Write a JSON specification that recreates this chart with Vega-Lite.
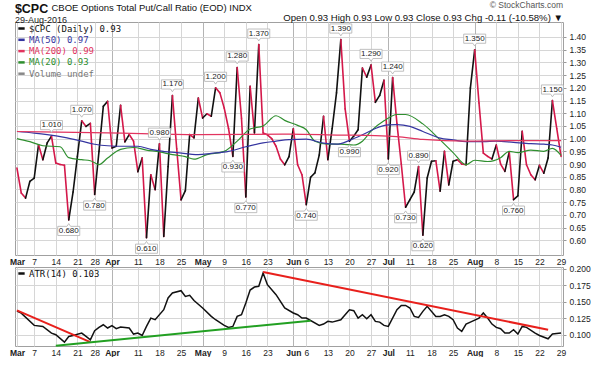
{
"$schema": "https://vega.github.io/schema/vega-lite/v6.json",
"background": "white",
"padding": {"left": 8, "top": 0, "right": 0, "bottom": 0},
"autosize": {"type": "pad"},
"bounds": "flush",
"spacing": 12,
"title": {"text": "$CPC", "subtitle": "29-Aug-2016", "anchor": "start", "font": "Liberation Sans", "fontSize": 12.5, "fontWeight": "bold", "color": "#111", "subtitleFont": "Liberation Sans", "subtitleFontSize": 9, "subtitleColor": "#222", "subtitlePadding": 0, "offset": -24, "dx": 6},
"resolve": {"scale": {"color": "independent"}, "legend": {"color": "independent"}},
"config": {
  "view": {"stroke": "#a0a0a0", "strokeWidth": 1},
  "axis": {"labelFont": "Liberation Sans", "labelFontSize": 8.5, "labelColor": "#222", "gridColor": "#d6d6d6", "gridWidth": 1, "domain": false, "titleFont": "Liberation Sans"}
},
"datasets": {
  "cpc": [
    {"d":"03-01","v":0.884},{"d":"03-02","v":0.786},{"d":"03-03","v":0.766},{"d":"03-04","v":0.832},
    {"d":"03-07","v":0.845},{"d":"03-08","v":0.976},{"d":"03-09","v":0.917},{"d":"03-10","v":0.983},{"d":"03-11","v":1.010},
    {"d":"03-14","v":0.904},{"d":"03-15","v":0.898},{"d":"03-16","v":0.895},{"d":"03-17","v":0.680},{"d":"03-18","v":0.790},
    {"d":"03-21","v":0.930},{"d":"03-22","v":1.070},{"d":"03-23","v":1.048},{"d":"03-24","v":1.060},
    {"d":"03-28","v":0.780},{"d":"03-29","v":0.950},{"d":"03-30","v":1.127},{"d":"03-31","v":1.147},{"d":"04-01","v":0.963},
    {"d":"04-04","v":0.970},{"d":"04-05","v":1.131},{"d":"04-06","v":0.987},{"d":"04-07","v":1.016},{"d":"04-08","v":0.990},
    {"d":"04-11","v":0.870},{"d":"04-12","v":0.924},{"d":"04-13","v":0.610},{"d":"04-14","v":0.858},{"d":"04-15","v":0.799},
    {"d":"04-18","v":0.980},{"d":"04-19","v":0.615},{"d":"04-20","v":0.890},{"d":"04-21","v":1.170},{"d":"04-22","v":0.960},
    {"d":"04-25","v":0.759},{"d":"04-26","v":0.795},{"d":"04-27","v":1.016},{"d":"04-28","v":1.003},{"d":"04-29","v":1.160},
    {"d":"05-02","v":1.081},{"d":"05-03","v":1.098},{"d":"05-04","v":1.088},{"d":"05-05","v":1.200},{"d":"05-06","v":1.180},
    {"d":"05-09","v":1.120},{"d":"05-10","v":1.040},{"d":"05-11","v":0.930},{"d":"05-12","v":1.280},{"d":"05-13","v":1.080},
    {"d":"05-16","v":0.770},{"d":"05-17","v":1.206},{"d":"05-18","v":1.022},{"d":"05-19","v":1.370},{"d":"05-20","v":1.022},
    {"d":"05-23","v":1.015},{"d":"05-24","v":1.000},{"d":"05-25","v":0.970},{"d":"05-26","v":0.920},{"d":"05-27","v":0.897},
    {"d":"05-31","v":0.929},{"d":"06-01","v":1.039},{"d":"06-02","v":0.897},{"d":"06-03","v":0.858},
    {"d":"06-06","v":0.740},{"d":"06-07","v":0.848},{"d":"06-08","v":0.865},{"d":"06-09","v":0.935},{"d":"06-10","v":1.088},
    {"d":"06-13","v":0.917},{"d":"06-14","v":1.040},{"d":"06-15","v":1.180},{"d":"06-16","v":1.390},{"d":"06-17","v":1.117},
    {"d":"06-20","v":0.990},{"d":"06-21","v":1.010},{"d":"06-22","v":1.035},{"d":"06-23","v":1.278},{"d":"06-24","v":1.242},
    {"d":"06-27","v":1.290},{"d":"06-28","v":1.143},{"d":"06-29","v":1.170},{"d":"06-30","v":1.230},{"d":"07-01","v":0.920},
    {"d":"07-05","v":1.240},{"d":"07-06","v":1.059},{"d":"07-07","v":0.900},{"d":"07-08","v":0.730},
    {"d":"07-11","v":0.760},{"d":"07-12","v":0.790},{"d":"07-13","v":0.890},{"d":"07-14","v":0.620},{"d":"07-15","v":0.845},
    {"d":"07-18","v":0.911},{"d":"07-19","v":0.913},{"d":"07-20","v":0.793},{"d":"07-21","v":0.950},{"d":"07-22","v":0.818},
    {"d":"07-25","v":0.911},{"d":"07-26","v":0.917},{"d":"07-27","v":0.900},{"d":"07-28","v":0.897},{"d":"07-29","v":1.199},
    {"d":"08-01","v":1.350},{"d":"08-02","v":1.140},{"d":"08-03","v":0.943},{"d":"08-04","v":0.930},{"d":"08-05","v":0.920},
    {"d":"08-08","v":0.975},{"d":"08-09","v":0.900},{"d":"08-10","v":0.871},{"d":"08-11","v":0.948},{"d":"08-12","v":0.760},
    {"d":"08-15","v":0.775},{"d":"08-16","v":1.029},{"d":"08-17","v":0.897},{"d":"08-18","v":0.858},{"d":"08-19","v":0.838},
    {"d":"08-22","v":0.895},{"d":"08-23","v":0.864},{"d":"08-24","v":0.924},{"d":"08-25","v":1.150},{"d":"08-26","v":1.040},
    {"d":"08-29","v":0.930}
  ],
  "ma": [
    {"s":"MA(20) 0.93","d":"03-01","v":1.000},{"s":"MA(20) 0.93","d":"03-04","v":0.988},{"s":"MA(20) 0.93","d":"03-09","v":0.972},
    {"s":"MA(20) 0.93","d":"03-15","v":0.968},{"s":"MA(20) 0.93","d":"03-17","v":0.925},{"s":"MA(20) 0.93","d":"03-22","v":0.917},
    {"s":"MA(20) 0.93","d":"03-24","v":0.913},{"s":"MA(20) 0.93","d":"03-29","v":0.898},{"s":"MA(20) 0.93","d":"03-31","v":0.924},
    {"s":"MA(20) 0.93","d":"04-05","v":0.958},{"s":"MA(20) 0.93","d":"04-08","v":0.965},{"s":"MA(20) 0.93","d":"04-13","v":0.955},
    {"s":"MA(20) 0.93","d":"04-18","v":0.948},{"s":"MA(20) 0.93","d":"04-21","v":0.937},{"s":"MA(20) 0.93","d":"04-26","v":0.929},
    {"s":"MA(20) 0.93","d":"04-28","v":0.919},{"s":"MA(20) 0.93","d":"05-03","v":0.937},{"s":"MA(20) 0.93","d":"05-09","v":0.950},
    {"s":"MA(20) 0.93","d":"05-12","v":0.990},{"s":"MA(20) 0.93","d":"05-17","v":1.038},{"s":"MA(20) 0.93","d":"05-20","v":1.050},
    {"s":"MA(20) 0.93","d":"05-25","v":1.090},{"s":"MA(20) 0.93","d":"05-27","v":1.072},{"s":"MA(20) 0.93","d":"06-02","v":1.052},
    {"s":"MA(20) 0.93","d":"06-06","v":1.035},{"s":"MA(20) 0.93","d":"06-08","v":0.990},{"s":"MA(20) 0.93","d":"06-13","v":0.978},
    {"s":"MA(20) 0.93","d":"06-16","v":0.978},{"s":"MA(20) 0.93","d":"06-21","v":0.975},{"s":"MA(20) 0.93","d":"06-23","v":0.990},
    {"s":"MA(20) 0.93","d":"06-27","v":1.030},{"s":"MA(20) 0.93","d":"06-30","v":1.070},{"s":"MA(20) 0.93","d":"07-06","v":1.095},
    {"s":"MA(20) 0.93","d":"07-08","v":1.095},{"s":"MA(20) 0.93","d":"07-14","v":1.058},{"s":"MA(20) 0.93","d":"07-20","v":0.995},
    {"s":"MA(20) 0.93","d":"07-25","v":0.945},{"s":"MA(20) 0.93","d":"07-28","v":0.897},{"s":"MA(20) 0.93","d":"08-01","v":0.915},
    {"s":"MA(20) 0.93","d":"08-04","v":0.910},{"s":"MA(20) 0.93","d":"08-09","v":0.925},{"s":"MA(20) 0.93","d":"08-11","v":0.950},
    {"s":"MA(20) 0.93","d":"08-15","v":0.945},{"s":"MA(20) 0.93","d":"08-18","v":0.955},{"s":"MA(20) 0.93","d":"08-23","v":0.950},
    {"s":"MA(20) 0.93","d":"08-25","v":0.962},{"s":"MA(20) 0.93","d":"08-29","v":0.934},
    {"s":"MA(50) 0.97","d":"03-01","v":1.028},{"s":"MA(50) 0.97","d":"03-07","v":1.022},{"s":"MA(50) 0.97","d":"03-10","v":1.016},
    {"s":"MA(50) 0.97","d":"03-16","v":1.005},{"s":"MA(50) 0.97","d":"03-22","v":0.990},{"s":"MA(50) 0.97","d":"03-28","v":0.978},
    {"s":"MA(50) 0.97","d":"03-31","v":0.972},{"s":"MA(50) 0.97","d":"04-06","v":0.970},{"s":"MA(50) 0.97","d":"04-11","v":0.970},
    {"s":"MA(50) 0.97","d":"04-14","v":0.958},{"s":"MA(50) 0.97","d":"04-18","v":0.952},{"s":"MA(50) 0.97","d":"04-22","v":0.945},
    {"s":"MA(50) 0.97","d":"04-29","v":0.937},{"s":"MA(50) 0.97","d":"05-04","v":0.942},{"s":"MA(50) 0.97","d":"05-10","v":0.950},
    {"s":"MA(50) 0.97","d":"05-16","v":0.968},{"s":"MA(50) 0.97","d":"05-20","v":0.983},{"s":"MA(50) 0.97","d":"05-25","v":0.990},
    {"s":"MA(50) 0.97","d":"05-31","v":0.996},{"s":"MA(50) 0.97","d":"06-06","v":0.998},{"s":"MA(50) 0.97","d":"06-10","v":0.982},
    {"s":"MA(50) 0.97","d":"06-15","v":0.978},{"s":"MA(50) 0.97","d":"06-20","v":0.993},{"s":"MA(50) 0.97","d":"06-23","v":1.015},
    {"s":"MA(50) 0.97","d":"06-28","v":1.040},{"s":"MA(50) 0.97","d":"07-01","v":1.054},{"s":"MA(50) 0.97","d":"07-06","v":1.055},
    {"s":"MA(50) 0.97","d":"07-11","v":1.048},{"s":"MA(50) 0.97","d":"07-14","v":1.028},{"s":"MA(50) 0.97","d":"07-20","v":1.002},
    {"s":"MA(50) 0.97","d":"07-25","v":0.995},{"s":"MA(50) 0.97","d":"07-28","v":0.988},{"s":"MA(50) 0.97","d":"08-03","v":0.988},
    {"s":"MA(50) 0.97","d":"08-08","v":0.990},{"s":"MA(50) 0.97","d":"08-12","v":0.985},{"s":"MA(50) 0.97","d":"08-18","v":0.980},
    {"s":"MA(50) 0.97","d":"08-23","v":0.978},{"s":"MA(50) 0.97","d":"08-25","v":0.975},{"s":"MA(50) 0.97","d":"08-29","v":0.966},
    {"s":"MA(200) 0.99","d":"03-01","v":1.028},{"s":"MA(200) 0.99","d":"03-31","v":1.023},{"s":"MA(200) 0.99","d":"04-29","v":1.016},
    {"s":"MA(200) 0.99","d":"05-18","v":1.017},{"s":"MA(200) 0.99","d":"05-31","v":1.018},{"s":"MA(200) 0.99","d":"06-16","v":1.014},
    {"s":"MA(200) 0.99","d":"06-28","v":1.012},{"s":"MA(200) 0.99","d":"07-06","v":1.008},{"s":"MA(200) 0.99","d":"07-14","v":0.997},
    {"s":"MA(200) 0.99","d":"07-28","v":0.990},{"s":"MA(200) 0.99","d":"08-12","v":0.992},{"s":"MA(200) 0.99","d":"08-29","v":0.992}
  ],
  "ann": [
    {"d":"03-11","v":1.010,"p":"a"},{"d":"03-17","v":0.680,"p":"b"},{"d":"03-22","v":1.070,"p":"a"},{"d":"03-28","v":0.780,"p":"b"},
    {"d":"04-13","v":0.610,"p":"b"},{"d":"04-18","v":0.980,"p":"a"},{"d":"04-21","v":1.170,"p":"a"},{"d":"05-05","v":1.200,"p":"a"},
    {"d":"05-11","v":0.930,"p":"b"},{"d":"05-12","v":1.280,"p":"a"},{"d":"05-16","v":0.770,"p":"b"},{"d":"05-19","v":1.370,"p":"a"},
    {"d":"06-06","v":0.740,"p":"b"},{"d":"06-16","v":1.390,"p":"a"},{"d":"06-20","v":0.990,"p":"b"},{"d":"06-27","v":1.290,"p":"a"},
    {"d":"07-01","v":0.920,"p":"b"},{"d":"07-05","v":1.240,"p":"a"},{"d":"07-08","v":0.730,"p":"b"},{"d":"07-13","v":0.890,"p":"a"},
    {"d":"07-14","v":0.620,"p":"b"},{"d":"08-01","v":1.350,"p":"a"},{"d":"08-12","v":0.760,"p":"b"},{"d":"08-25","v":1.150,"p":"a"}
  ],
  "atr": [
    {"d":"03-01","v":0.136},{"d":"03-02","v":0.133},{"d":"03-07","v":0.1143},{"d":"03-09","v":0.1127},{"d":"03-11","v":0.1026},
    {"d":"03-14","v":0.1001},{"d":"03-16","v":0.0889},{"d":"03-17","v":0.0975},{"d":"03-18","v":0.099},{"d":"03-22","v":0.1026},
    {"d":"03-23","v":0.0975},{"d":"03-24","v":0.0924},{"d":"03-28","v":0.1062},{"d":"03-29","v":0.1113},{"d":"03-30","v":0.1153},
    {"d":"03-31","v":0.1103},{"d":"04-01","v":0.114},{"d":"04-04","v":0.1093},{"d":"04-05","v":0.1118},{"d":"04-07","v":0.1103},
    {"d":"04-08","v":0.1011},{"d":"04-11","v":0.1026},{"d":"04-12","v":0.099},{"d":"04-13","v":0.1127},{"d":"04-14","v":0.1254},
    {"d":"04-15","v":0.1229},{"d":"04-19","v":0.1381},{"d":"04-20","v":0.1559},{"d":"04-21","v":0.1635},{"d":"04-25","v":0.167},
    {"d":"04-26","v":0.1584},{"d":"04-27","v":0.160},{"d":"04-28","v":0.152},{"d":"05-02","v":0.1407},{"d":"05-04","v":0.128},
    {"d":"05-05","v":0.1229},{"d":"05-09","v":0.1143},{"d":"05-10","v":0.1113},{"d":"05-11","v":0.1127},{"d":"05-12","v":0.128},
    {"d":"05-13","v":0.1305},{"d":"05-16","v":0.1483},{"d":"05-17","v":0.168},{"d":"05-18","v":0.1725},{"d":"05-19","v":0.1737},
    {"d":"05-20","v":0.194},{"d":"05-23","v":0.1762},{"d":"05-25","v":0.161},{"d":"05-27","v":0.1407},{"d":"06-01","v":0.1331},
    {"d":"06-02","v":0.1305},{"d":"06-03","v":0.1254},{"d":"06-06","v":0.1254},{"d":"06-09","v":0.1143},{"d":"06-10","v":0.1163},
    {"d":"06-13","v":0.1204},{"d":"06-14","v":0.1193},{"d":"06-16","v":0.1229},{"d":"06-17","v":0.1305},{"d":"06-20","v":0.1381},
    {"d":"06-21","v":0.1366},{"d":"06-22","v":0.1254},{"d":"06-23","v":0.1305},{"d":"06-24","v":0.1244},{"d":"06-27","v":0.1305},
    {"d":"06-28","v":0.1204},{"d":"06-29","v":0.1193},{"d":"06-30","v":0.1143},{"d":"07-01","v":0.1127},{"d":"07-06","v":0.1381},
    {"d":"07-07","v":0.1447},{"d":"07-08","v":0.1447},{"d":"07-11","v":0.1407},{"d":"07-12","v":0.128},{"d":"07-13","v":0.1264},
    {"d":"07-14","v":0.1356},{"d":"07-15","v":0.1432},{"d":"07-19","v":0.128},{"d":"07-20","v":0.128},{"d":"07-21","v":0.1305},
    {"d":"07-22","v":0.128},{"d":"07-25","v":0.1229},{"d":"07-26","v":0.1103},{"d":"07-27","v":0.1052},{"d":"07-28","v":0.1163},
    {"d":"07-29","v":0.1193},{"d":"08-02","v":0.1254},{"d":"08-03","v":0.1331},{"d":"08-04","v":0.1254},{"d":"08-05","v":0.1163},
    {"d":"08-08","v":0.1113},{"d":"08-09","v":0.1093},{"d":"08-10","v":0.1026},{"d":"08-11","v":0.1026},{"d":"08-12","v":0.1077},
    {"d":"08-15","v":0.1011},{"d":"08-16","v":0.1127},{"d":"08-17","v":0.1113},{"d":"08-19","v":0.1026},{"d":"08-22","v":0.099},
    {"d":"08-24","v":0.094},{"d":"08-25","v":0.1011},{"d":"08-29","v":0.1026}
  ]
},
"vconcat": [
  {
    "width": 548, "height": 233,
    "title": {"text": "© StockCharts.com", "subtitle": "Open 0.93  High 0.93  Low 0.93  Close 0.93  Chg -0.11 (-10.58%) ▼", "anchor": "end", "frame": "group", "font": "Liberation Sans", "fontSize": 8.5, "fontWeight": "normal", "color": "#555", "subtitleFont": "Liberation Sans", "subtitleFontSize": 9.6, "subtitleColor": "#111", "subtitlePadding": 3, "offset": -20},
    "layer": [
      {
        "data": {"name": "cpc"},
        "transform": [
          {"window": [{"op": "lag", "field": "v", "as": "pv"}, {"op": "lag", "field": "d", "as": "pd"}], "sort": [{"field": "d"}]},
          {"filter": "datum.pv != null"}
        ],
        "mark": {"type": "rule", "strokeWidth": 1.6, "strokeCap": "round"},
        "encoding": {
          "x": {"field": "pd", "type": "ordinal", "scale": {"type": "point", "padding": 0.45},
                "axis": {"values": ["03-01","03-07","03-14","03-21","03-28","04-01","04-11","04-18","04-25","05-02","05-09","05-16","05-23","06-01","06-06","06-13","06-20","06-27","07-01","07-11","07-18","07-25","08-01","08-08","08-15","08-22","08-29"],
                         "labelExpr": "datum.value=='03-01'?'Mar':datum.value=='04-01'?'Apr':datum.value=='05-02'?'May':datum.value=='06-01'?'Jun':datum.value=='07-01'?'Jul':datum.value=='08-01'?'Aug':toString(toNumber(slice(datum.value,3)))",
                         "labelFontWeight": {"condition": {"test": "indexof(['03-01','04-01','05-02','06-01','07-01','08-01'], datum.value) >= 0", "value": "bold"}, "value": "normal"},
                         "gridColor": {"condition": {"test": "indexof(['04-01','05-02','06-01','07-01','08-01'], datum.value) >= 0", "value": "#b4b4b4"}, "value": "#d6d6d6"},
                         "grid": true, "ticks": false, "labelPadding": 2, "labelAngle": 0, "labelOverlap": false, "title": null}},
          "x2": {"field": "d"},
          "y": {"field": "pv", "type": "quantitative", "scale": {"domain": [0.542, 1.459], "nice": false, "zero": false},
                "axis": {"orient": "right", "values": [0.6,0.65,0.7,0.75,0.8,0.85,0.9,0.95,1.0,1.05,1.1,1.15,1.2,1.25,1.3,1.35,1.4], "tickCount": 40, "format": ".2f", "tickSize": 3, "tickColor": "#999", "labelPadding": 3, "grid": true, "labelOverlap": false, "labelBound": false,
                         "title": "CBOE Options Total Put/Call Ratio (EOD)  INDX", "titleAngle": 0, "titleX": -512, "titleY": -11.5, "titleAlign": "left", "titleBaseline": "alphabetic", "titleFontSize": 9.5, "titleFontWeight": "normal", "titleColor": "#111"}},
          "y2": {"field": "v"},
          "color": {"condition": {"test": "datum.v >= datum.pv", "value": "#111111"}, "value": "#d4184a"}
        }
      },
      {
        "data": {"name": "ma"},
        "mark": {"type": "line", "strokeWidth": 1.2, "interpolate": "monotone"},
        "encoding": {
          "x": {"field": "d", "type": "ordinal", "scale": {"type": "point", "padding": 0.45}},
          "y": {"field": "v", "type": "quantitative", "scale": {"domain": [0.542, 1.459], "nice": false, "zero": false}},
          "color": {"field": "s", "type": "nominal",
                    "scale": {"domain": ["$CPC (Daily) 0.93", "MA(50) 0.97", "MA(200) 0.99", "MA(20) 0.93", "Volume undef"], "range": ["#111111", "#3535a0", "#e2345f", "#2f8f2f", "#888888"]},
                    "legend": {"orient": "top-left", "offset": 1, "title": null, "symbolType": "stroke", "symbolSize": 40, "symbolStrokeWidth": 2.5, "labelFont": "DejaVu Sans Mono", "labelFontSize": 9, "rowPadding": 0.3, "labelOffset": 3, "padding": 1, "labelLimit": 200,
                               "encode": {"labels": {"update": {"fill": {"signal": "datum.value == 'MA(50) 0.97' ? '#3535a0' : datum.value == 'MA(200) 0.99' ? '#e2345f' : datum.value == 'MA(20) 0.93' ? '#2f8f2f' : datum.value == 'Volume undef' ? '#777777' : '#111111'"}}}}}}
        }
      },
      {
        "data": {"name": "ann"},
        "transform": [{"filter": "datum.p == 'a'"}],
        "mark": {"type": "point", "shape": "M-1.2,-0.5H1.2V0.5H0.2L0,0.8L-0.2,0.5H-1.2Z", "size": 336, "filled": true, "fill": "white", "stroke": "#b0b0b0", "strokeWidth": 0.8, "opacity": 1, "yOffset": -11},
        "encoding": {
          "x": {"field": "d", "type": "ordinal", "scale": {"type": "point", "padding": 0.45}},
          "y": {"field": "v", "type": "quantitative", "scale": {"domain": [0.542, 1.459], "nice": false, "zero": false}}
        }
      },
      {
        "data": {"name": "ann"},
        "transform": [{"filter": "datum.p == 'a'"}],
        "mark": {"type": "text", "font": "Liberation Sans", "fontSize": 8, "color": "#222", "yOffset": -11, "baseline": "middle"},
        "encoding": {
          "x": {"field": "d", "type": "ordinal", "scale": {"type": "point", "padding": 0.45}},
          "y": {"field": "v", "type": "quantitative", "scale": {"domain": [0.542, 1.459], "nice": false, "zero": false}},
          "text": {"field": "v", "type": "quantitative", "format": ".3f"}
        }
      },
      {
        "data": {"name": "ann"},
        "transform": [{"filter": "datum.p == 'b'"}],
        "mark": {"type": "point", "shape": "M-1.2,0.5H1.2V-0.5H0.2L0,-0.8L-0.2,-0.5H-1.2Z", "size": 336, "filled": true, "fill": "white", "stroke": "#b0b0b0", "strokeWidth": 0.8, "opacity": 1, "yOffset": 11},
        "encoding": {
          "x": {"field": "d", "type": "ordinal", "scale": {"type": "point", "padding": 0.45}},
          "y": {"field": "v", "type": "quantitative", "scale": {"domain": [0.542, 1.459], "nice": false, "zero": false}}
        }
      },
      {
        "data": {"name": "ann"},
        "transform": [{"filter": "datum.p == 'b'"}],
        "mark": {"type": "text", "font": "Liberation Sans", "fontSize": 8, "color": "#222", "yOffset": 11, "baseline": "middle"},
        "encoding": {
          "x": {"field": "d", "type": "ordinal", "scale": {"type": "point", "padding": 0.45}},
          "y": {"field": "v", "type": "quantitative", "scale": {"domain": [0.542, 1.459], "nice": false, "zero": false}},
          "text": {"field": "v", "type": "quantitative", "format": ".3f"}
        }
      }
    ]
  },
  {
    "width": 548, "height": 79,
    "layer": [
      {
        "data": {"name": "atr"},
        "mark": {"type": "line", "strokeWidth": 1.5},
        "encoding": {
          "x": {"field": "d", "type": "ordinal",
                "scale": {"type": "point", "padding": 0.45, "domain": ["03-01","03-02","03-03","03-04","03-07","03-08","03-09","03-10","03-11","03-14","03-15","03-16","03-17","03-18","03-21","03-22","03-23","03-24","03-28","03-29","03-30","03-31","04-01","04-04","04-05","04-06","04-07","04-08","04-11","04-12","04-13","04-14","04-15","04-18","04-19","04-20","04-21","04-22","04-25","04-26","04-27","04-28","04-29","05-02","05-03","05-04","05-05","05-06","05-09","05-10","05-11","05-12","05-13","05-16","05-17","05-18","05-19","05-20","05-23","05-24","05-25","05-26","05-27","05-31","06-01","06-02","06-03","06-06","06-07","06-08","06-09","06-10","06-13","06-14","06-15","06-16","06-17","06-20","06-21","06-22","06-23","06-24","06-27","06-28","06-29","06-30","07-01","07-05","07-06","07-07","07-08","07-11","07-12","07-13","07-14","07-15","07-18","07-19","07-20","07-21","07-22","07-25","07-26","07-27","07-28","07-29","08-01","08-02","08-03","08-04","08-05","08-08","08-09","08-10","08-11","08-12","08-15","08-16","08-17","08-18","08-19","08-22","08-23","08-24","08-25","08-26","08-29"]},
                "axis": {"values": ["03-01","03-07","03-14","03-21","03-28","04-01","04-11","04-18","04-25","05-02","05-09","05-16","05-23","06-01","06-06","06-13","06-20","06-27","07-01","07-11","07-18","07-25","08-01","08-08","08-15","08-22","08-29"],
                         "labelExpr": "datum.value=='03-01'?'Mar':datum.value=='04-01'?'Apr':datum.value=='05-02'?'May':datum.value=='06-01'?'Jun':datum.value=='07-01'?'Jul':datum.value=='08-01'?'Aug':toString(toNumber(slice(datum.value,3)))",
                         "labelFontWeight": {"condition": {"test": "indexof(['03-01','04-01','05-02','06-01','07-01','08-01'], datum.value) >= 0", "value": "bold"}, "value": "normal"},
                         "gridColor": {"condition": {"test": "indexof(['04-01','05-02','06-01','07-01','08-01'], datum.value) >= 0", "value": "#b4b4b4"}, "value": "#d6d6d6"},
                         "grid": true, "ticks": false, "labelPadding": 2, "labelAngle": 0, "labelOverlap": false, "title": null}},
          "y": {"field": "v", "type": "quantitative", "scale": {"domain": [0.083, 0.203], "nice": false, "zero": false},
                "axis": {"orient": "right", "values": [0.1, 0.125, 0.15, 0.175, 0.2], "tickCount": 40, "format": ".3f", "tickSize": 3, "tickColor": "#999", "labelPadding": 3, "grid": true, "labelOverlap": false, "labelBound": false, "title": null}},
          "color": {"datum": "ATR(14) 0.103", "type": "nominal", "scale": {"range": ["#111111"]},
                    "legend": {"orient": "top-left", "offset": 1, "title": null, "symbolType": "stroke", "symbolSize": 40, "symbolStrokeWidth": 2.5, "labelFont": "DejaVu Sans Mono", "labelFontSize": 9, "labelOffset": 3, "padding": 1, "labelColor": "#111"}}
        }
      },
      {
        "data": {"values": [{"d": "03-01", "v": 0.137, "d2": "03-24", "v2": 0.089}, {"d": "05-20", "v": 0.1955, "d2": "08-24", "v2": 0.1077}]},
        "mark": {"type": "rule", "color": "#e8201c", "strokeWidth": 2},
        "encoding": {
          "x": {"field": "d", "type": "ordinal", "scale": {"type": "point", "padding": 0.45, "domain": ["03-01","03-02","03-03","03-04","03-07","03-08","03-09","03-10","03-11","03-14","03-15","03-16","03-17","03-18","03-21","03-22","03-23","03-24","03-28","03-29","03-30","03-31","04-01","04-04","04-05","04-06","04-07","04-08","04-11","04-12","04-13","04-14","04-15","04-18","04-19","04-20","04-21","04-22","04-25","04-26","04-27","04-28","04-29","05-02","05-03","05-04","05-05","05-06","05-09","05-10","05-11","05-12","05-13","05-16","05-17","05-18","05-19","05-20","05-23","05-24","05-25","05-26","05-27","05-31","06-01","06-02","06-03","06-06","06-07","06-08","06-09","06-10","06-13","06-14","06-15","06-16","06-17","06-20","06-21","06-22","06-23","06-24","06-27","06-28","06-29","06-30","07-01","07-05","07-06","07-07","07-08","07-11","07-12","07-13","07-14","07-15","07-18","07-19","07-20","07-21","07-22","07-25","07-26","07-27","07-28","07-29","08-01","08-02","08-03","08-04","08-05","08-08","08-09","08-10","08-11","08-12","08-15","08-16","08-17","08-18","08-19","08-22","08-23","08-24","08-25","08-26","08-29"]}},
          "x2": {"field": "d2"},
          "y": {"field": "v", "type": "quantitative", "scale": {"domain": [0.083, 0.203], "nice": false, "zero": false}},
          "y2": {"field": "v2"}
        }
      },
      {
        "data": {"values": [{"d": "03-14", "v": 0.0833, "d2": "06-07", "v2": 0.1215}]},
        "mark": {"type": "rule", "color": "#22a022", "strokeWidth": 2},
        "encoding": {
          "x": {"field": "d", "type": "ordinal", "scale": {"type": "point", "padding": 0.45, "domain": ["03-01","03-02","03-03","03-04","03-07","03-08","03-09","03-10","03-11","03-14","03-15","03-16","03-17","03-18","03-21","03-22","03-23","03-24","03-28","03-29","03-30","03-31","04-01","04-04","04-05","04-06","04-07","04-08","04-11","04-12","04-13","04-14","04-15","04-18","04-19","04-20","04-21","04-22","04-25","04-26","04-27","04-28","04-29","05-02","05-03","05-04","05-05","05-06","05-09","05-10","05-11","05-12","05-13","05-16","05-17","05-18","05-19","05-20","05-23","05-24","05-25","05-26","05-27","05-31","06-01","06-02","06-03","06-06","06-07","06-08","06-09","06-10","06-13","06-14","06-15","06-16","06-17","06-20","06-21","06-22","06-23","06-24","06-27","06-28","06-29","06-30","07-01","07-05","07-06","07-07","07-08","07-11","07-12","07-13","07-14","07-15","07-18","07-19","07-20","07-21","07-22","07-25","07-26","07-27","07-28","07-29","08-01","08-02","08-03","08-04","08-05","08-08","08-09","08-10","08-11","08-12","08-15","08-16","08-17","08-18","08-19","08-22","08-23","08-24","08-25","08-26","08-29"]}},
          "x2": {"field": "d2"},
          "y": {"field": "v", "type": "quantitative", "scale": {"domain": [0.083, 0.203], "nice": false, "zero": false}},
          "y2": {"field": "v2"}
        }
      }
    ]
  }
]
}
